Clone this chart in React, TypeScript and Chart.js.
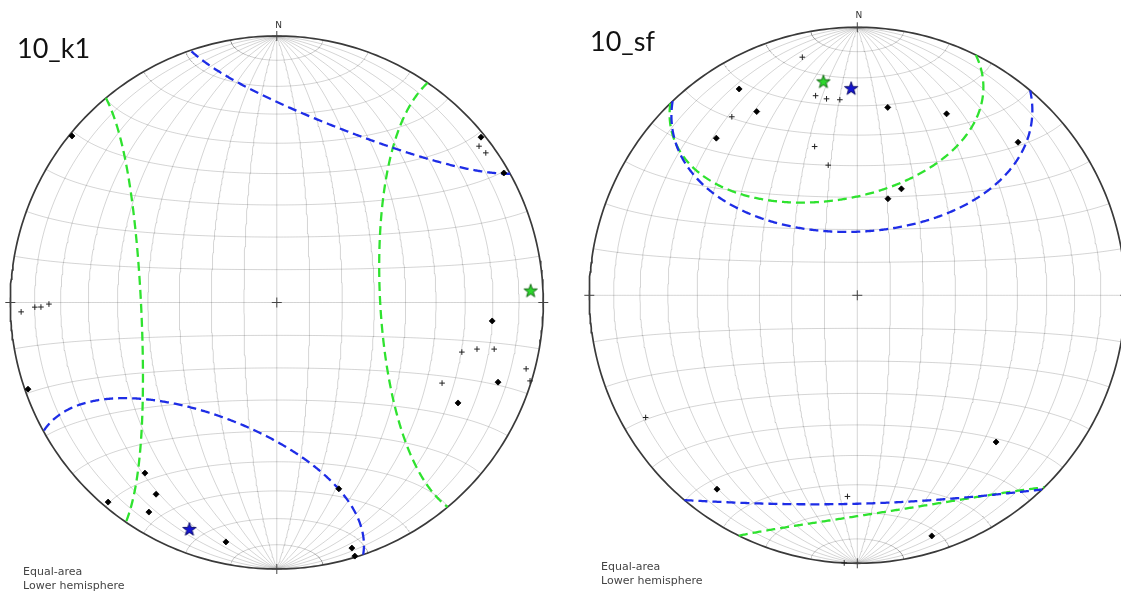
import React, { useEffect, useRef } from "react";
import { Chart, registerables } from "chart.js";

Chart.register(...registerables);

// ---------------- DATA (trend / plunge in degrees) ----------------
// Left net: 10_k1
const k1DiamondTrend = [309.1, 51.0, 60.3, 94.9, 109.8, 119.0, 250.8, 217.7, 212.2, 211.4, 220.2, 192.0, 161.6, 163.0, 162.9];
const k1DiamondPlunge = [1.1, 1.6, 2.2, 20.0, 12.8, 23.3, 1.3, 20.2, 16.1, 8.7, 2.2, 9.0, 27.2, 4.1, 0.5];
const k1CrossTrend = [52.3, 54.4, 105.0, 103.1, 102.1, 104.9, 107.2, 116.0, 267.9, 268.9, 268.9, 269.6];
const k1CrossPlunge = [4.6, 4.0, 28.9, 23.9, 17.7, 3.6, 0.6, 31.6, 4.5, 10.1, 12.5, 15.6];
const k1GreenMean = [87.3, 5.2]; // trend, plunge
const k1BlueMean = [201.1, 9.8];
const k1GreenConeAngle = 53;
const k1BlueConeAngle = 41;

// Right net: 10_sf
const sfDiamondTrend = [330.2, 331.3, 318.1, 9.2, 26.2, 46.4, 22.5, 17.6, 136.6, 215.9, 162.8];
const sfDiamondPlunge = [12.3, 22.9, 22.3, 29.7, 25.5, 18.3, 54.6, 59.0, 25.6, 11.7, 6.7];
const sfCrossTrend = [347.0, 348.2, 351.1, 354.9, 324.9, 344.0, 347.4, 240.0, 182.8, 182.8];
const sfCrossPlunge = [9.7, 24.9, 26.7, 27.6, 19.7, 41.8, 48.8, 9.7, 25.8, 0];
const sfGreenMean = [351.0, 20.3];
const sfBlueMean = [358.3, 23.7];
const sfGreenConeAngle = 40;
const sfBlueConeAngle = 47;

// Net decorations
const gridStepDeg = 10;
const cardinalTrends = [0, 90, 180, 270];
const titles = ["10_k1", "10_sf"];
const netNotes = ["Equal-area", "Lower hemisphere"];

// ---------------- GEOMETRY HELPERS ----------------
type V3 = number[];
type P = { x: number; y: number };
const D2R = Math.PI / 180;

function lineVec(trend: number, plunge: number): V3 {
  const t = trend * D2R, p = plunge * D2R;
  return [Math.cos(p) * Math.sin(t), Math.cos(p) * Math.cos(t), Math.sin(p)];
}
function norm(v: V3): V3 {
  const l = Math.hypot(v[0], v[1], v[2]);
  return [v[0] / l, v[1] / l, v[2] / l];
}
function cross(a: V3, b: V3): V3 {
  return [a[1] * b[2] - a[2] * b[1], a[2] * b[0] - a[0] * b[2], a[0] * b[1] - a[1] * b[0]];
}
// Lambert equal-area, lower hemisphere, unit primitive
function projSide(v: V3, lower: boolean): P {
  const w = lower ? v : [-v[0], -v[1], -v[2]];
  const s = Math.sqrt(1 + w[2]);
  return { x: w[0] / s, y: w[1] / s };
}
function project(v: V3): P {
  return projSide(v, v[2] >= 0);
}
function netVec(lon: number, lat: number): V3 {
  const l = lon * D2R, f = lat * D2R;
  return [Math.cos(f) * Math.sin(l), Math.sin(f), Math.cos(f) * Math.cos(l)];
}
function coneSegments(mean: number[], angle: number): P[][] {
  const a = lineVec(mean[0], mean[1]);
  const u = norm(cross(a, [0, 0, 1]));
  const v = cross(a, u);
  const h = angle * D2R, ch = Math.cos(h), sh = Math.sin(h);
  const vecs: V3[] = [];
  for (let i = 0; i <= 720; i++) {
    const t = (i * Math.PI) / 360, c = Math.cos(t), s = Math.sin(t);
    vecs.push([
      a[0] * ch + sh * (c * u[0] + s * v[0]),
      a[1] * ch + sh * (c * u[1] + s * v[1]),
      a[2] * ch + sh * (c * u[2] + s * v[2]),
    ]);
  }
  const segs: P[][] = [];
  const firstLower = vecs[0][2] >= 0;
  let lower = firstLower;
  let cur: P[] = [projSide(vecs[0], lower)];
  for (let i = 1; i < vecs.length; i++) {
    const p = vecs[i];
    const isLower = p[2] >= 0;
    if (isLower !== lower) {
      const q = vecs[i - 1];
      const f = q[2] / (q[2] - p[2]);
      const c = norm([q[0] + (p[0] - q[0]) * f, q[1] + (p[1] - q[1]) * f, 0]);
      cur.push(projSide(c, lower));
      segs.push(cur);
      cur = [projSide(c, isLower)];
      lower = isLower;
    }
    cur.push(projSide(p, lower));
  }
  segs.push(cur);
  if (segs.length > 1 && lower === firstLower) {
    const last = segs.pop() as P[];
    segs[0] = last.concat(segs[0]);
  }
  return segs;
}
function makeStar(fill: string, edge: string, size: number): HTMLCanvasElement {
  const c = document.createElement("canvas");
  c.width = size;
  c.height = size;
  const g = c.getContext("2d") as CanvasRenderingContext2D;
  const cx = size / 2, cy = size / 2 + 0.6, R = size / 2 - 1, r = R * 0.4;
  g.beginPath();
  for (let i = 0; i < 10; i++) {
    const ang = -Math.PI / 2 + (i * Math.PI) / 5;
    const rad = i % 2 === 0 ? R : r;
    const x = cx + rad * Math.cos(ang), y = cy + rad * Math.sin(ang);
    if (i === 0) g.moveTo(x, y);
    else g.lineTo(x, y);
  }
  g.closePath();
  g.fillStyle = fill;
  g.fill();
  g.lineWidth = 0.9;
  g.strokeStyle = edge;
  g.stroke();
  return c;
}

const GREEN_LINE = "#2fe22f";
const BLUE_LINE = "#1e2de6";

function buildDatasets(
  diT: number[], diP: number[], crT: number[], crP: number[],
  greenMean: number[], greenAngle: number, blueMean: number[], blueAngle: number
) {
  const ds: any[] = [];
  const lineDs = (data: P[], color: string, width: number, order: number, dash: number[] = []) => ({
    data, showLine: true, pointRadius: 0, pointHoverRadius: 0, borderColor: color,
    borderWidth: width, borderDash: dash, fill: false, clip: false, order, tension: 0,
  });
  // grid: meridians & parallels
  for (let lon = -90 + gridStepDeg; lon < 90; lon += gridStepDeg) {
    const pts: P[] = [];
    for (let lat = -90; lat <= 90; lat += 1) pts.push(project(netVec(lon, lat)));
    ds.push(lineDs(pts, "rgba(0,0,0,0.19)", 0.9, 20));
  }
  for (let lat = -90 + gridStepDeg; lat < 90; lat += gridStepDeg) {
    const pts: P[] = [];
    for (let lon = -90; lon <= 90; lon += 1) pts.push(project(netVec(lon, lat)));
    ds.push(lineDs(pts, "rgba(0,0,0,0.19)", 0.9, 20));
  }
  // primitive circle
  const prim: P[] = [];
  for (let t = 0; t <= 360; t += 1) prim.push(project(lineVec(t, 0)));
  ds.push(lineDs(prim, "#3a3a3a", 1.7, 15));
  // cones
  for (const s of coneSegments(greenMean, greenAngle)) ds.push(lineDs(s, GREEN_LINE, 2.3, 7, [9, 5]));
  for (const s of coneSegments(blueMean, blueAngle)) ds.push(lineDs(s, BLUE_LINE, 2.3, 6, [9, 5]));
  // center + cardinal crosses
  ds.push({
    data: [project(lineVec(0, 90))].concat(cardinalTrends.map((t) => project(lineVec(t, 0)))),
    showLine: false, pointStyle: "cross", pointRadius: 5, borderColor: "#444", borderWidth: 1,
    clip: false, order: 4,
  });
  // crosses
  ds.push({
    data: crT.map((t, i) => project(lineVec(t, crP[i]))),
    showLine: false, pointStyle: "cross", pointRadius: 2.8, borderColor: "#222", borderWidth: 1,
    clip: false, order: 3,
  });
  // diamonds
  ds.push({
    data: diT.map((t, i) => project(lineVec(t, diP[i]))),
    showLine: false, pointStyle: "rectRot", pointRadius: 3, backgroundColor: "#000",
    borderColor: "#000", borderWidth: 0.8, clip: false, order: 2,
  });
  // mean directions (stars)
  ds.push({
    data: [project(lineVec(greenMean[0], greenMean[1]))], showLine: false,
    pointStyle: makeStar("#2cd62c", "#0b5e0b", 16), pointRadius: 8, clip: false, order: 1,
  });
  ds.push({
    data: [project(lineVec(blueMean[0], blueMean[1]))], showLine: false,
    pointStyle: makeStar("#1414d2", "#070760", 16), pointRadius: 8, clip: false, order: 0,
  });
  return ds;
}

function Net(props: {
  left: number; width: number; height: number;
  padding: { left: number; top: number; right: number; bottom: number };
  build: () => any[];
}) {
  const ref = useRef<HTMLCanvasElement>(null);
  useEffect(() => {
    const chart = new Chart(ref.current as HTMLCanvasElement, {
      type: "scatter",
      data: { datasets: props.build() },
      options: {
        responsive: false,
        animation: false,
        devicePixelRatio: 1,
        events: [],
        layout: { padding: props.padding },
        plugins: { legend: { display: false }, tooltip: { enabled: false } },
        scales: {
          x: { type: "linear", min: -1, max: 1, display: false },
          y: { type: "linear", min: -1, max: 1, display: false },
        },
      } as any,
    });
    return () => chart.destroy();
  }, []);
  return (
    <canvas
      ref={ref}
      width={props.width}
      height={props.height}
      style={{ position: "absolute", left: props.left, top: 0, width: props.width, height: props.height }}
    />
  );
}

const smallText: React.CSSProperties = {
  position: "absolute", font: "11px 'DejaVu Sans'", lineHeight: "14px", color: "#444", whiteSpace: "nowrap",
};
const titleText: React.CSSProperties = {
  position: "absolute", font: "27px Lato", lineHeight: "27px", color: "#111", whiteSpace: "nowrap",
};
const nText: React.CSSProperties = {
  position: "absolute", font: "9px 'DejaVu Sans'", lineHeight: "9px", color: "#333", width: 20, textAlign: "center",
};

export default function App() {
  return (
    <div style={{ position: "absolute", left: 0, top: 0, width: 1121, height: 591, overflow: "hidden", background: "#fff" }}>
      <Net
        left={0}
        width={560}
        height={591}
        padding={{ left: 10.3, top: 36, right: 16.7, bottom: 22 }}
        build={() =>
          buildDatasets(k1DiamondTrend, k1DiamondPlunge, k1CrossTrend, k1CrossPlunge,
            k1GreenMean, k1GreenConeAngle, k1BlueMean, k1BlueConeAngle)
        }
      />
      <Net
        left={561}
        width={580}
        height={591}
        padding={{ left: 28.3, top: 27.3, right: 15.7, bottom: 27.7 }}
        build={() =>
          buildDatasets(sfDiamondTrend, sfDiamondPlunge, sfCrossTrend, sfCrossPlunge,
            sfGreenMean, sfGreenConeAngle, sfBlueMean, sfBlueConeAngle)
        }
      />
      <div style={{ ...titleText, left: 17, top: 34 }}>{titles[0]}</div>
      <div style={{ ...titleText, left: 590, top: 27 }}>{titles[1]}</div>
      <div style={{ ...nText, left: 268.5, top: 20.7 }}>N</div>
      <div style={{ ...nText, left: 848.8, top: 10.7 }}>N</div>
      <div style={{ ...smallText, left: 23, top: 564.5 }}>
        {netNotes[0]}
        <br />
        {netNotes[1]}
      </div>
      <div style={{ ...smallText, left: 601, top: 560 }}>
        {netNotes[0]}
        <br />
        {netNotes[1]}
      </div>
    </div>
  );
}
